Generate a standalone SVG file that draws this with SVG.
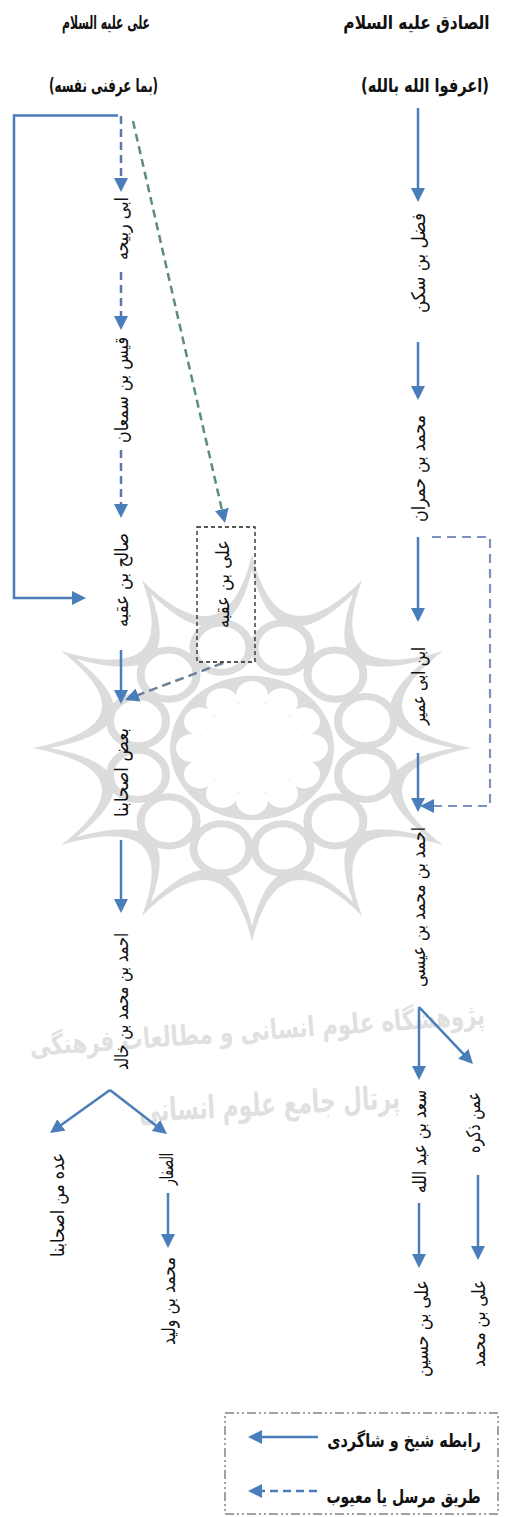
<svg xmlns="http://www.w3.org/2000/svg" xmlns:xlink="http://www.w3.org/1999/xlink" width="509" height="1517" viewBox="0 0 509 1517">
  <defs>
    <style>
      text { font-family: "DejaVu Sans", sans-serif; fill: #111; direction: rtl; }
      .h { font-size: 19px; font-weight: bold; text-anchor: middle; }
      .v { font-size: 19px; text-anchor: middle; dominant-baseline: central; }
      .wm { font-weight: bold; fill: #e0e0e0; text-anchor: middle; }
      .solid { fill: none; stroke: #4a7ebb; stroke-width: 2.5; }
      .dash { fill: none; stroke: #5b79a6; stroke-width: 2.5; stroke-dasharray: 8 5; }
      .dash-teal { fill: none; stroke: #5f8a82; stroke-width: 2.5; stroke-dasharray: 8 5; }
      .dash-light { fill: none; stroke: #7b93bd; stroke-width: 2.2; stroke-dasharray: 9 6; }
      .dash-gray { fill: none; stroke: #6a7f95; stroke-width: 2.5; stroke-dasharray: 9 5; }
    </style>
    <marker id="ah" viewBox="0 0 14 14" markerWidth="14" markerHeight="14" refX="11" refY="7" orient="auto" markerUnits="userSpaceOnUse">
      <path d="M0,0 L14,7 L0,14 z" fill="#4a7ebb"/>
    </marker>
    <path id="star" d="M220,0 Q96.59,25.88 190.53,110 Q70.71,70.71 110,190.53 Q25.88,96.59 0,220 Q-25.88,96.59 -110,190.53 Q-70.71,70.71 -190.53,110 Q-96.59,25.88 -220,0 Q-96.59,-25.88 -190.53,-110 Q-70.71,-70.71 -110,-190.53 Q-25.88,-96.59 0,-220 Q25.88,-96.59 110,-190.53 Q70.71,-70.71 190.53,-110 Q96.59,-25.88 220,0 Z"/>
  </defs>

  <rect width="509" height="1517" fill="#fff"/>

  <!-- background rosette emblem -->
  <g id="emblem" transform="translate(252,748) scale(1,0.88)">
    <use xlink:href="#star" fill="#dcdcdc"/>
    <use xlink:href="#star" fill="#fff" transform="scale(0.92)"/>
    <g fill="#fff" stroke="#dcdcdc" stroke-width="8">
      <circle cx="113.98" cy="30.54" r="28"/>
      <circle cx="83.44" cy="83.44" r="28"/>
      <circle cx="30.54" cy="113.98" r="28"/>
      <circle cx="-30.54" cy="113.98" r="28"/>
      <circle cx="-83.44" cy="83.44" r="28"/>
      <circle cx="-113.98" cy="30.54" r="28"/>
      <circle cx="-113.98" cy="-30.54" r="28"/>
      <circle cx="-83.44" cy="-83.44" r="28"/>
      <circle cx="-30.54" cy="-113.98" r="28"/>
      <circle cx="30.54" cy="-113.98" r="28"/>
      <circle cx="83.44" cy="-83.44" r="28"/>
      <circle cx="113.98" cy="-30.54" r="28"/>
    </g>
    <circle r="82" fill="#dcdcdc"/>
    <g fill="#fff">
      <circle r="52"/>
      <circle cx="60" cy="0" r="16"/>
      <circle cx="51.96" cy="30" r="16"/>
      <circle cx="30" cy="51.96" r="16"/>
      <circle cx="0" cy="60" r="16"/>
      <circle cx="-30" cy="51.96" r="16"/>
      <circle cx="-51.96" cy="30" r="16"/>
      <circle cx="-60" cy="0" r="16"/>
      <circle cx="-51.96" cy="-30" r="16"/>
      <circle cx="-30" cy="-51.96" r="16"/>
      <circle cx="0" cy="-60" r="16"/>
      <circle cx="30" cy="-51.96" r="16"/>
      <circle cx="51.96" cy="-30" r="16"/>
    </g>
  </g>
  <g id="emblem-text">
    <text class="wm" font-size="28" transform="translate(258,1040) rotate(-4) scale(0.76,1)">پژوهشگاه علوم انسانی و مطالعات فرهنگی</text>
    <text class="wm" font-size="32" transform="translate(270,1115) rotate(-3) scale(0.68,1)">پرتال جامع علوم انسانی</text>
  </g>

  <!-- column headings -->
  <g id="head-sadiq">
    <text class="h" transform="translate(416.5,29) scale(0.81,1)">الصادق علیه السلام</text>
    <text class="h" transform="translate(425,92) scale(0.77,1)">(اعرفوا الله بالله)</text>
  </g>
  <g id="head-ali">
    <text class="h" transform="translate(106,29) scale(0.57,1)">علی علیه السلام</text>
    <text class="h" transform="translate(103.5,92) scale(0.63,1)">(بما عرفنی نفسه)</text>
  </g>

  <!-- connectors -->
  <g id="connectors" marker-end="url(#ah)">
    <path class="solid" d="M118,115.5 H14 V598 H83"/>
    <path class="dash" d="M121,116 V189"/>
    <path class="dash" d="M121,272 V327"/>
    <path class="dash" d="M121,450 V515"/>
    <path class="solid" d="M121,650 V701"/>
    <path class="dash-teal" d="M133,121 L224.3,520.1"/>
    <path class="dash-gray" d="M223,663 L127.8,698.9"/>
    <path class="solid" d="M121,840 V910"/>
    <path class="solid" d="M110,1090 L52.4,1131.3"/>
    <path class="solid" d="M110,1090 L164.6,1132.2"/>
    <path class="solid" d="M168,1193 V1245"/>

    <path class="solid" d="M418,108 V199"/>
    <path class="solid" d="M418,342 V397"/>
    <path class="solid" d="M418,537 V619"/>
    <path class="dash-light" d="M432,537 H490 V806 H423"/>
    <path class="solid" d="M418,753 V809"/>
    <path class="solid" d="M419,1007 V1077"/>
    <path class="solid" d="M419,1007 L470.9,1061.8"/>
    <path class="solid" d="M419,1203 V1265"/>
    <path class="solid" d="M478,1175 V1257"/>
  </g>

  <!-- narrators, left chain -->
  <g id="abi-rabiha"><text class="v" transform="translate(121,228.5) rotate(-90)" textLength="63" lengthAdjust="spacingAndGlyphs">ابی ربیحه</text></g>
  <g id="qays"><text class="v" transform="translate(121,390) rotate(-90)" textLength="106" lengthAdjust="spacingAndGlyphs">قیس بن سمعان</text></g>
  <g id="salih"><text class="v" transform="translate(121,580) rotate(-90)" textLength="94" lengthAdjust="spacingAndGlyphs">صالح بن عقبه</text></g>
  <g id="ali-uqba">
    <rect x="197" y="527" width="58" height="135" fill="none" stroke="#222" stroke-width="1.3" stroke-dasharray="4 3"/>
    <text class="v" transform="translate(222,584) rotate(-90)" textLength="88" lengthAdjust="spacingAndGlyphs">علی بن عقبه</text>
  </g>
  <g id="ba-d"><text class="v" transform="translate(121,772.5) rotate(-90)" textLength="89" lengthAdjust="spacingAndGlyphs">بعض اصحابنا</text></g>
  <g id="ahmad-khalid"><text class="v" transform="translate(121,1001.5) rotate(-90)" textLength="137" lengthAdjust="spacingAndGlyphs">احمد بن محمد بن خالد</text></g>
  <g id="idda"><text class="v" transform="translate(57,1205) rotate(-90)" textLength="104" lengthAdjust="spacingAndGlyphs">عده من اصحابنا</text></g>
  <g id="saffar"><text class="v" transform="translate(166,1169) rotate(-90)" textLength="32" lengthAdjust="spacingAndGlyphs">الصفار</text></g>
  <g id="walid"><text class="v" transform="translate(168,1301) rotate(-90)" textLength="88" lengthAdjust="spacingAndGlyphs">محمد بن ولید</text></g>

  <!-- narrators, right chain -->
  <g id="fadl"><text class="v" transform="translate(418,263) rotate(-90)" textLength="100" lengthAdjust="spacingAndGlyphs">فضل بن سکن</text></g>
  <g id="humran"><text class="v" transform="translate(418,468.5) rotate(-90)" textLength="107" lengthAdjust="spacingAndGlyphs">محمد بن حمران</text></g>
  <g id="abi-umayr"><text class="v" transform="translate(418,686) rotate(-90)" textLength="78" lengthAdjust="spacingAndGlyphs">ابن ابی عمیر</text></g>
  <g id="ahmad-isa"><text class="v" transform="translate(418,907) rotate(-90)" textLength="160" lengthAdjust="spacingAndGlyphs">احمد بن محمد بن عیسی</text></g>
  <g id="sad"><text class="v" transform="translate(419,1141.5) rotate(-90)" textLength="103" lengthAdjust="spacingAndGlyphs">سعد بن عبد الله</text></g>
  <g id="amman"><text class="v" transform="translate(473,1122.5) rotate(-90)" textLength="61" lengthAdjust="spacingAndGlyphs">عمن ذکره</text></g>
  <g id="ali-husayn"><text class="v" transform="translate(421,1328.5) rotate(-90)" textLength="97" lengthAdjust="spacingAndGlyphs">علی بن حسین</text></g>
  <g id="ali-muhammad"><text class="v" transform="translate(478,1323.5) rotate(-90)" textLength="87" lengthAdjust="spacingAndGlyphs">علی بن محمد</text></g>

  <!-- key -->
  <g id="legend">
    <rect x="225" y="1413" width="273" height="101" fill="none" stroke="#444" stroke-width="1" stroke-dasharray="9 3 2 3 2 3"/>
    <path class="solid" d="M318,1437 H251" marker-end="url(#ah)"/>
    <text class="h" transform="translate(404,1447) scale(0.76,1)">رابطه شیخ و شاگردی</text>
    <path class="dash" style="stroke:#4a7ebb" d="M317,1491 H251" marker-end="url(#ah)"/>
    <text class="h" transform="translate(403.5,1503) scale(0.74,1)">طریق مرسل یا معیوب</text>
  </g>
</svg>
